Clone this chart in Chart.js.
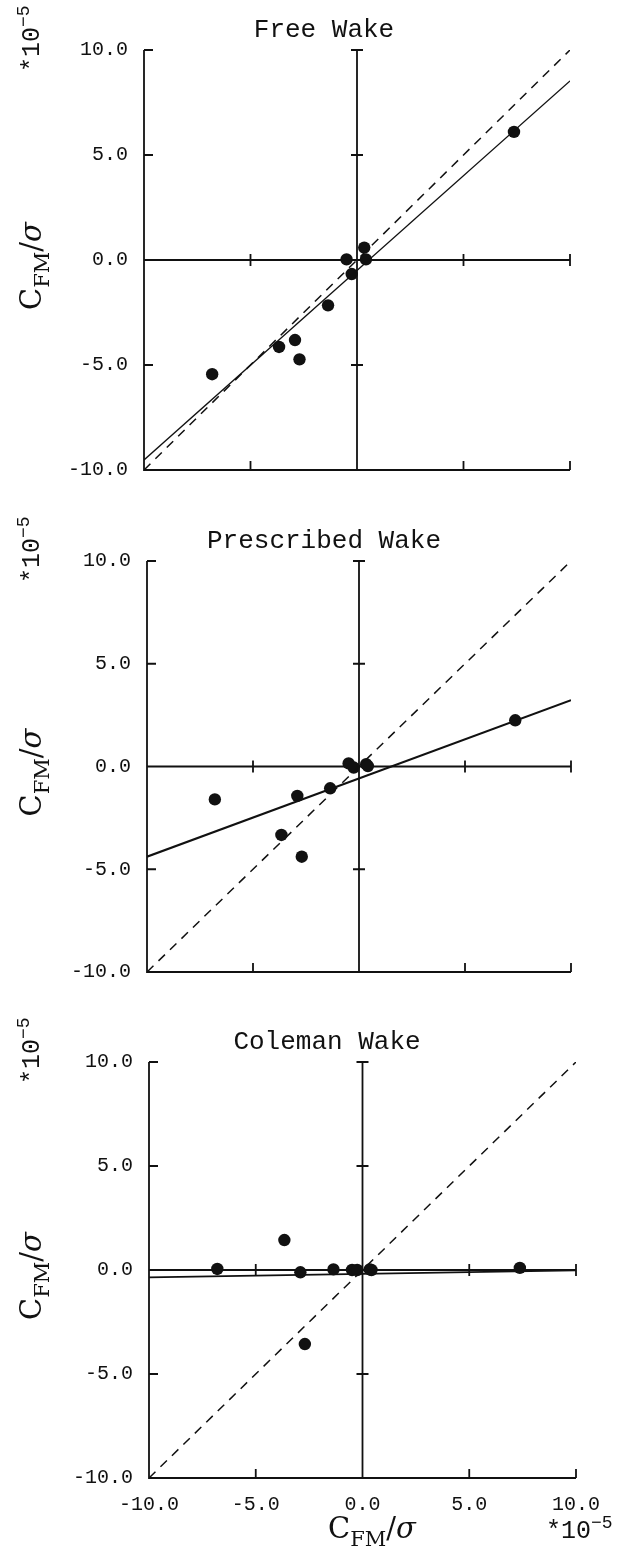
<!DOCTYPE html>
<html>
<head>
<meta charset="utf-8">
<script src="https://cdn.jsdelivr.net/npm/chart.js@4.4.1/dist/chart.umd.min.js"></script>
<style>
  html, body { margin: 0; padding: 0; background: #fff; overflow: hidden; }
  #page { position: relative; width: 623px; height: 1551px; }
  canvas { position: absolute; left: 0; }
</style>
</head>
<body>
<div id="page">
  <canvas id="c1" width="623" height="500" style="top:0px"></canvas>
  <canvas id="c2" width="623" height="500" style="top:500px"></canvas>
  <canvas id="c3" width="623" height="551" style="top:1000px"></canvas>
</div>
<script>
// x values (same runs in every panel), *10^-5
var runX = [-6.8, -3.66, -2.91, -2.7, -1.36, -0.49, -0.25, 0.34, 0.42, 7.37];

// predicted values, one list per wake model
var freeWakeY       = [-5.44, -4.14, -3.81, -4.73, -2.16, 0.03, -0.67, 0.59, 0.03, 6.1];
var prescribedWakeY = [-1.6, -3.33, -1.43, -4.39, -1.06, 0.15, -0.05, 0.11, 0.02, 2.25];
var colemanWakeY    = [0.05, 1.44, -0.11, -3.56, 0.03, 0.0, 0.0, 0.03, 0.0, 0.1];

// least squares fit lines, given at the two ends of the axis
var lineEndsX         = [-10, 10];
var freeWakeFit       = [-9.52, 8.53];
var prescribedWakeFit = [-4.39, 3.23];
var colemanWakeFit    = [-0.35, -0.02];
var perfectFit        = [-10, 10];

// axis ticks
var tickValues = [-10, -5, 0, 5, 10];
var tickLabels = ['-10.0', '-5.0', '0.0', '5.0', '10.0'];

var ink = '#111';
Chart.defaults.font.family = '"Liberation Mono", monospace';
Chart.defaults.color = ink;

function pts(xs, ys) {
  return xs.map(function (x, i) { return { x: x, y: ys[i] }; });
}

// draws a label made of pieces [text, font, baseline shift]
function drawLabel(ctx, parts, x, y, rotate, centred) {
  ctx.save();
  ctx.translate(x, y);
  if (rotate) ctx.rotate(-Math.PI / 2);
  var total = 0;
  parts.forEach(function (p) { ctx.font = p[1]; total += ctx.measureText(p[0]).width; });
  var u = centred ? -total / 2 : 0;
  ctx.textAlign = 'left';
  ctx.textBaseline = 'alphabetic';
  parts.forEach(function (p) {
    ctx.font = p[1];
    ctx.fillText(p[0], u, p[2]);
    u += ctx.measureText(p[0]).width;
  });
  ctx.restore();
}

var cfmParts = [
  ['C', '29px "DejaVu Serif"', 0],
  ['FM', '21px "DejaVu Serif"', 8],
  ['/', '29px "DejaVu Serif"', 0],
  ['\u03c3', 'italic 29px "DejaVu Serif"', 0]
];
var expParts = [
  ['*10', '25px "Liberation Mono"', 0],
  ['\u2212' + '5', '18px "Liberation Mono"', -10]
];

var frame = {
  id: 'frame',
  beforeDatasetsDraw: function (chart) {
    var ctx = chart.ctx, a = chart.chartArea;
    var sx = chart.scales.x, sy = chart.scales.y;
    var x0 = sx.getPixelForValue(0), y0 = sy.getPixelForValue(0);
    ctx.save();
    ctx.strokeStyle = ink;
    ctx.lineWidth = 1.8;
    ctx.beginPath();
    ctx.moveTo(a.left, a.top); ctx.lineTo(a.left, a.bottom); ctx.lineTo(a.right, a.bottom);
    ctx.moveTo(a.left, y0); ctx.lineTo(a.right, y0);
    ctx.moveTo(x0, a.top); ctx.lineTo(x0, a.bottom);
    sy.ticks.forEach(function (t) {
      if (t.value === sy.min) return;
      var py = sy.getPixelForValue(t.value);
      ctx.moveTo(a.left, py); ctx.lineTo(a.left + 9, py);
      ctx.moveTo(x0 - 6, py); ctx.lineTo(x0 + 6, py);
    });
    sx.ticks.forEach(function (t) {
      if (t.value === sx.min) return;
      var px = sx.getPixelForValue(t.value);
      ctx.moveTo(px, a.bottom); ctx.lineTo(px, a.bottom - 9);
      ctx.moveTo(px, y0 - 6); ctx.lineTo(px, y0 + 6);
    });
    ctx.stroke();
    ctx.restore();
  },
  afterDraw: function (chart, args, opts) {
    var ctx = chart.ctx, a = chart.chartArea;
    var y0 = chart.scales.y.getPixelForValue(0);
    ctx.save();
    ctx.fillStyle = ink;
    ctx.font = '26px "Liberation Mono"';
    ctx.textAlign = 'center';
    ctx.textBaseline = 'alphabetic';
    ctx.fillText(opts.title, opts.titleX, a.top - 13);
    drawLabel(ctx, cfmParts, 41, y0 + 6, true, true);
    // *10^-5 on the y axis, reading upwards
    drawLabel(ctx, expParts, 39, a.top + 22, true, false);
    if (opts.xTitle) {
      drawLabel(ctx, cfmParts, 372, a.bottom + 60, false, true);
      drawLabel(ctx, expParts, 546, a.bottom + 60, false, false);
    }
    ctx.restore();
  }
};

var panels = [
  { id: 'c1', title: 'Free Wake', ys: freeWakeY, fit: freeWakeFit, fitWidth: 1.3,
    titleX: 324, area: { left: 144, top: 50, right: 570, bottom: 470 }, xTicks: false },
  { id: 'c2', title: 'Prescribed Wake', ys: prescribedWakeY, fit: prescribedWakeFit, fitWidth: 2.1,
    titleX: 324, area: { left: 147, top: 61, right: 571, bottom: 475 }, xTicks: false },
  { id: 'c3', title: 'Coleman Wake', ys: colemanWakeY, fit: colemanWakeFit, fitWidth: 1.7,
    titleX: 327, area: { left: 149, top: 62, right: 576, bottom: 478 }, xTicks: true }
];

panels.forEach(function (p) {
  var cv = document.getElementById(p.id);
  var W = cv.width, H = cv.height, a = p.area;
  function fmt(v) {
    var i = tickValues.indexOf(v);
    return i < 0 ? '' : tickLabels[i];
  }
  new Chart(cv.getContext('2d'), {
    type: 'scatter',
    data: {
      datasets: [
        { data: pts(lineEndsX, perfectFit), showLine: true, borderColor: ink, borderWidth: 1.5,
          borderDash: [9, 7], pointRadius: 0 },
        { data: pts(lineEndsX, p.fit), showLine: true, borderColor: ink, borderWidth: p.fitWidth,
          pointRadius: 0 },
        { data: pts(runX, p.ys), showLine: false, pointRadius: 6.2, pointBackgroundColor: ink,
          pointBorderWidth: 0 }
      ]
    },
    options: {
      responsive: false,
      animation: false,
      layout: { padding: { left: 0, top: a.top, right: W - a.right, bottom: 0 } },
      plugins: {
        legend: { display: false },
        tooltip: { enabled: false },
        frame: { title: p.title, titleX: p.titleX, xTitle: p.xTicks }
      },
      scales: {
        x: {
          type: 'linear', min: -10, max: 10,
          grid: { display: false, drawTicks: false },
          border: { display: false },
          ticks: { display: p.xTicks, stepSize: 5, padding: 15, maxRotation: 0, autoSkip: false,
            font: { size: 20 }, callback: fmt },
          afterFit: function (s) { s.height = H - a.bottom; }
        },
        y: {
          type: 'linear', min: -10, max: 10,
          grid: { display: false, drawTicks: false },
          border: { display: false },
          ticks: { stepSize: 5, padding: 16, font: { size: 20 }, callback: fmt },
          afterFit: function (s) { s.width = a.left; }
        }
      }
    },
    plugins: [frame]
  });
});
</script>
</body>
</html>
